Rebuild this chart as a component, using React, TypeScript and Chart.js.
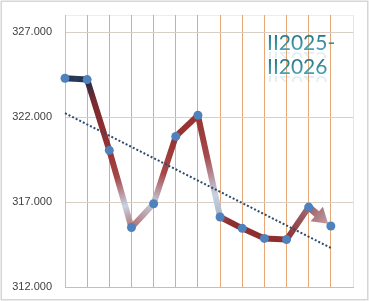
import { useEffect, useRef } from 'react';
import { Chart, registerables } from 'chart.js';

Chart.register(...registerables);

// ---- data ----
const values = [324.28, 324.2, 320.04, 315.5, 316.9, 320.86, 322.1, 316.12, 315.45, 314.86, 314.79, 316.7, 315.59];
const yTicks = [312, 317, 322, 327];
const yMin = 312;
const yMax = 328;
const titleLines = ['II2025-', 'II2026'];

// ---- styles (per-segment gradient stops of the main line) ----
const segStops: ([number, string][] | null)[] = [
  [[0, '#1B2A47'], [0.5, '#2B3B5A'], [1, '#1C2A46']],
  [[0, '#1E2B46'], [0.3, '#7A2A30'], [1, '#9A3232']],
  [[0, '#9A3232'], [0.35, '#A44848'], [0.72, '#C9D3E3'], [1, '#B07070']],
  [[0, '#B06A6A'], [1, '#C4CEDE']],
  [[0, '#C6D0E0'], [0.45, '#A84848'], [1, '#983030']],
  [[0, '#983030'], [1, '#9A3434']],
  [[0, '#983232'], [0.4, '#A44A4A'], [0.78, '#C8D2E2'], [1, '#A9B4C8']],
  [[0, '#9A5050'], [0.4, '#8E3030'], [1, '#8E2E2E']],
  [[0, '#8E2E2E'], [1, '#8E2E2E']],
  [[0, '#8E2E2E'], [1, '#8E2E2E']],
  [[0, '#8E2E2E'], [1, '#A06A72']],
  null,
];

function regression(ys: number[]) {
  const n = ys.length;
  const mx = (n - 1) / 2;
  const my = ys.reduce((a, b) => a + b, 0) / n;
  let sxy = 0, sxx = 0;
  ys.forEach((y, i) => { sxy += (i - mx) * (y - my); sxx += (i - mx) * (i - mx); });
  const b = sxy / sxx;
  const a = my - b * mx;
  return [{ x: 0, y: a }, { x: n - 1, y: a + b * (n - 1) }];
}

const decorPlugin = {
  id: 'decor',
  beforeDraw(chart: any) {
    const c = chart.ctx;
    c.save();
    c.fillStyle = '#ffffff';
    c.fillRect(0, 0, chart.width, chart.height);
    c.strokeStyle = '#D6D6D6';
    c.lineWidth = 1.5;
    c.strokeRect(1.25, 1.25, chart.width - 2.5, chart.height - 2.5);
    const a = chart.chartArea;
    c.strokeStyle = '#EDEDED';
    c.lineWidth = 1;
    c.beginPath();
    c.moveTo(a.left, a.top + 0.5);
    c.lineTo(a.right, a.top + 0.5);
    c.stroke();
    c.restore();
  },
  beforeDatasetsDraw(chart: any) {
    const meta = chart.getDatasetMeta(1);
    const pts = meta.data;
    const p0 = pts[pts.length - 2];
    const p1 = pts[pts.length - 1];
    const c = chart.ctx;
    const dx = p1.x - p0.x, dy = p1.y - p0.y;
    const len = Math.hypot(dx, dy);
    const ux = dx / len, uy = dy / len;
    const nx = -uy, ny = ux;
    const tipX = p1.x - ux * 3.5, tipY = p1.y - uy * 3.5;
    const headLen = 15, headHalf = 9.5, shaftHalf = 3.5;
    const bx = tipX - ux * headLen, by = tipY - uy * headLen;
    const g = c.createLinearGradient(p0.x, p0.y, tipX, tipY);
    g.addColorStop(0, 'rgba(150,85,92,0.95)');
    g.addColorStop(1, 'rgba(188,145,150,0.9)');
    c.save();
    c.fillStyle = g;
    c.beginPath();
    c.moveTo(p0.x + nx * shaftHalf, p0.y + ny * shaftHalf);
    c.lineTo(bx + nx * shaftHalf, by + ny * shaftHalf);
    c.lineTo(bx + nx * headHalf, by + ny * headHalf);
    c.lineTo(tipX, tipY);
    c.lineTo(bx - nx * headHalf, by - ny * headHalf);
    c.lineTo(bx - nx * shaftHalf, by - ny * shaftHalf);
    c.lineTo(p0.x - nx * shaftHalf, p0.y - ny * shaftHalf);
    c.closePath();
    c.fill();
    c.restore();
  },
  afterDraw(chart: any) {
    const c = chart.ctx;
    const x = 267;
    const baselines = [50, 74];
    c.save();
    c.font = '21px Lato';
    c.textBaseline = 'alphabetic';
    titleLines.forEach((t, i) => {
      const bl = baselines[i];
      c.save();
      c.beginPath();
      c.rect(x - 2, bl + 1, 80, 7);
      c.clip();
      c.translate(0, 2 * bl + 2);
      c.scale(1, -1);
      c.globalAlpha = 0.14;
      c.fillStyle = '#3B96A8';
      c.fillText(t, x, bl);
      c.restore();
      const g = c.createLinearGradient(0, bl - 16, 0, bl);
      g.addColorStop(0, '#1F7485');
      g.addColorStop(1, '#4AA2B3');
      c.fillStyle = g;
      c.fillText(t, x, bl);
    });
    c.restore();
  },
};

export default function App() {
  const ref = useRef<HTMLCanvasElement | null>(null);
  useEffect(() => {
    document.body.style.margin = '0';
    const canvas = ref.current!;
    const trend = regression(values);
    const chart = new Chart(canvas, {
      type: 'line',
      data: {
        datasets: [
          {
            data: trend,
            borderColor: '#2E4A6C',
            borderWidth: 2,
            borderDash: [2, 2],
            pointRadius: 0,
            clip: false as any,
          },
          {
            data: values.map((v, i) => ({ x: i, y: v })),
            borderWidth: 6,
            borderColor: '#8E2E2E',
            borderCapStyle: 'round',
            borderJoinStyle: 'round',
            pointRadius: 4.5,
            pointBackgroundColor: '#4F81BD',
            pointBorderWidth: 0,
            clip: false as any,
            segment: {
              borderColor: (ctx: any) => {
                const stops = segStops[ctx.p0DataIndex];
                if (!stops) return 'rgba(0,0,0,0)';
                const g = ctx.chart.ctx.createLinearGradient(ctx.p0.x, ctx.p0.y, ctx.p1.x, ctx.p1.y);
                stops.forEach(([o, col]) => g.addColorStop(o, col));
                return g;
              },
            },
          },
        ],
      },
      options: {
        animation: false,
        responsive: false,
        events: [],
        layout: { padding: { left: 0, top: 15, right: 16, bottom: 14 } },
        plugins: { legend: { display: false }, tooltip: { enabled: false } },
        scales: {
          x: {
            type: 'linear',
            min: 0,
            max: 13,
            afterBuildTicks: (s: any) => {
              s.ticks = Array.from({ length: 14 }, (_, i) => ({ value: i }));
            },
            ticks: { display: false },
            grid: {
              drawTicks: false,
              color: (ctx: any) => (ctx.index === 0 ? '#CDBDAD' : ctx.index === 13 ? '#E4E4E4' : '#E8A875'),
            },
            border: { display: true, color: '#CDBDAD' },
            afterFit: (s: any) => {
              s.height = 0;
              s.paddingLeft = 0;
              s.paddingRight = 0;
            },
          },
          y: {
            min: yMin,
            max: yMax,
            afterBuildTicks: (s: any) => {
              s.ticks = yTicks.map((v) => ({ value: v }));
            },
            grid: { drawTicks: false, color: '#DACFC4' },
            border: { display: true, color: '#CDBDAD' },
            ticks: {
              padding: 13,
              color: '#404040',
              font: { family: 'Liberation Sans', size: 11 },
              callback: (v: any) => Number(v).toFixed(3),
            },
            afterFit: (s: any) => {
              s.width = 65;
              s.paddingTop = 0;
              s.paddingBottom = 0;
            },
          },
        },
      },
      plugins: [decorPlugin],
    });
    return () => chart.destroy();
  }, []);
  return <canvas ref={ref} width={369} height={301} style={{ display: 'block' }} />;
}
